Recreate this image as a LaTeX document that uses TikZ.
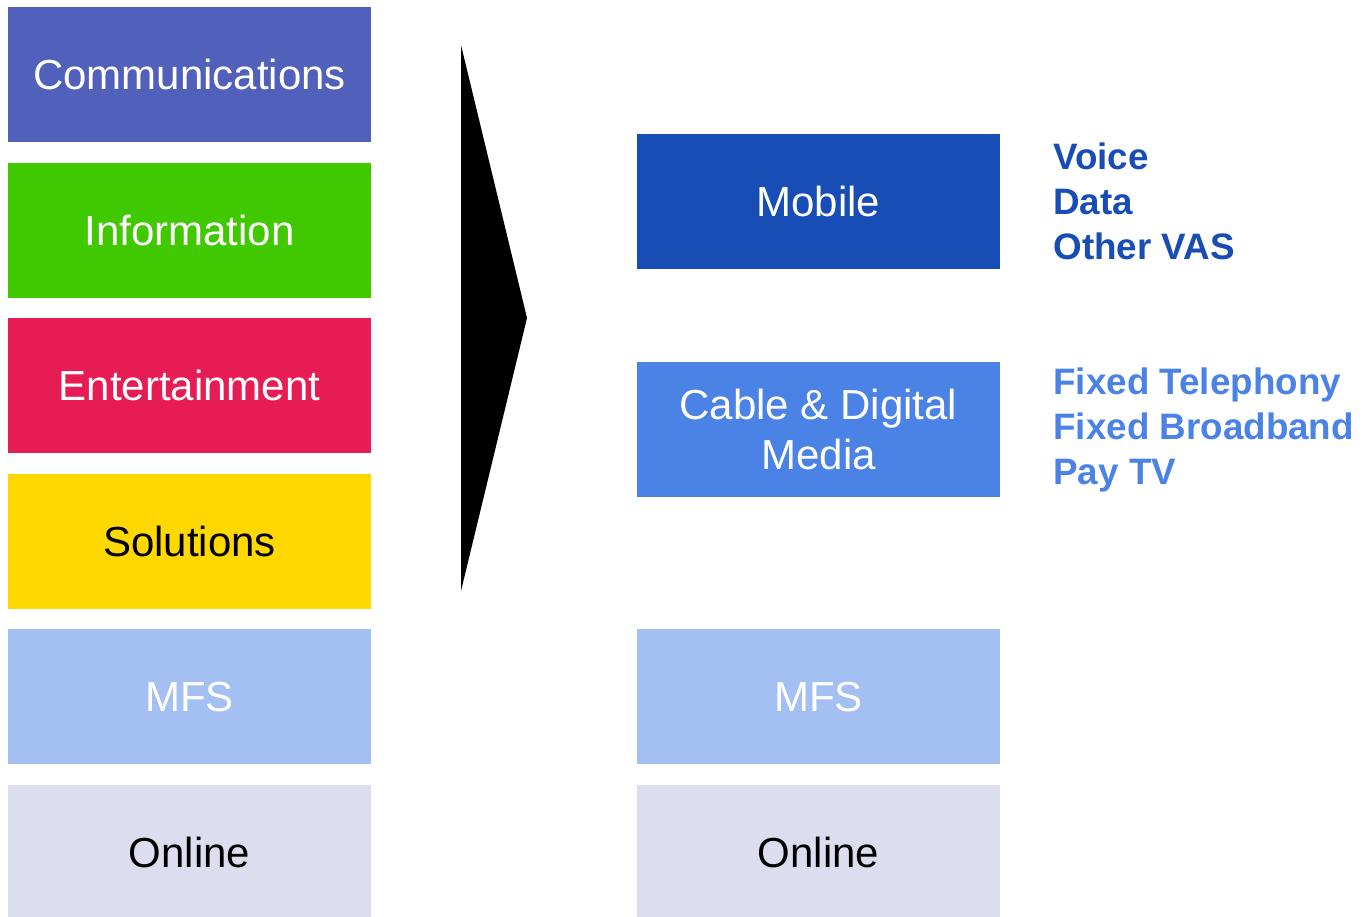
\documentclass[tikz,border=0pt]{standalone}
\usepackage{fontspec}
\setmainfont{Liberation Sans}
\usetikzlibrary{positioning}
\definecolor{comm}{RGB}{80,96,187}
\definecolor{info}{RGB}{64,200,0}
\definecolor{ent}{RGB}{232,28,84}
\definecolor{sol}{RGB}{255,216,0}
\definecolor{mfs}{RGB}{164,191,242}
\definecolor{onl}{RGB}{220,222,240}
\definecolor{mob}{RGB}{23,77,181}
\definecolor{cdm}{RGB}{75,130,230}
\tikzset{bx/.style={rectangle, fill=#1, minimum width=181.5pt, minimum height=67.5pt,
            inner sep=0pt, outer sep=0pt, align=center, text=white,
            font=\fontsize{21}{25}\selectfont},
         lst/.style={align=left, inner sep=0pt, text=#1,
            font=\bfseries\fontsize{18.4}{22.5}\selectfont}}

\begin{document}
\begin{tikzpicture}[x=0.5pt, y=-0.5pt, node distance=10.3pt]
\useasboundingbox (0,0) rectangle (1364,916);
% old segments
\node[bx=comm] (comm) at (189.5,74.5) {Communications};
\node[bx=info, below=of comm] (info) {Information};
\node[bx=ent, below=of info] (ent) {Entertainment};
\node[bx=sol, below=of ent, text=black] (sol) {Solutions};
\node[bx=mfs, below=of sol] (mfs1) {MFS};
\node[bx=onl, below=of mfs1, text=black] (onl1) {Online};
% chevron
\fill (461,45) -- (527,318) -- (461,591) -- cycle;
% new segments
\node[bx=mob] (mob) at (818.5,201.5) {Mobile};
\node[bx=cdm, below=46.5pt of mob] (cdm) {Cable \& Digital\\Media};
\node[bx=mfs, right=133pt of mfs1] (mfs2) {MFS};
\node[bx=onl, right=133pt of onl1, text=black] (onl2) {Online};
\node[lst=mob, right=26.5pt of mob] (moblst) {Voice\\Data\\Other VAS};
\node[lst=cdm, right=26.5pt of cdm] (cdmlst) {Fixed Telephony\\Fixed Broadband\\Pay TV};
\end{tikzpicture}
\end{document}
